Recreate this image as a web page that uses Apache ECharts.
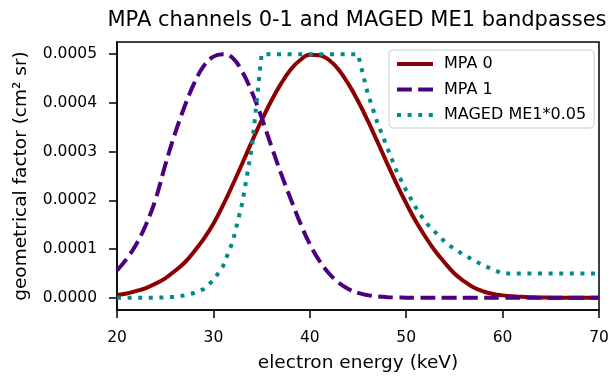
<!DOCTYPE html>
<html>
<head>
<meta charset="utf-8">
<script src="https://cdn.jsdelivr.net/npm/echarts@6/dist/echarts.min.js"></script>
<style>
  html, body {margin: 0; padding: 0; background: #fff;}
  #chart {width: 616px; height: 378px;}
</style>
</head>
<body>
<div id="chart"></div>
<script>
// values are in units of 1e-4 cm^2 sr at 1 keV steps
const energy = [20, 21, 22, 23, 24, 25, 26, 27, 28, 29, 30, 31, 32, 33, 34, 35, 36, 37, 38, 39,
    40, 41, 42, 43, 44, 45, 46, 47, 48, 49, 50, 51, 52, 53, 54, 55, 56, 57, 58, 59,
    60, 61, 62, 63, 64, 65, 66, 67, 68, 69, 70];
const mpa0 = [0.06, 0.09, 0.14, 0.20, 0.29, 0.40, 0.55, 0.72, 0.95, 1.21, 1.52, 1.90, 2.32, 2.76, 3.21, 3.64, 4.04, 4.39, 4.68, 4.88,
    4.99, 4.98, 4.88, 4.68, 4.39, 4.04, 3.64, 3.21, 2.77, 2.34, 1.94, 1.57, 1.25, 0.96, 0.72, 0.50, 0.34, 0.21, 0.13, 0.08,
    0.05, 0.03, 0.02, 0.01, 0.006, 0.003, 0.002, 0.001, 0, 0, 0];
const mpa1 = [0.56, 0.80, 1.10, 1.50, 2.02, 2.72, 3.36, 3.92, 4.40, 4.76, 4.95, 5.00, 4.92, 4.64, 4.22, 3.70, 3.12, 2.56, 2.04, 1.54,
    1.10, 0.76, 0.50, 0.31, 0.18, 0.10, 0.055, 0.028, 0.014, 0.007, 0.003, 0.001, 0, 0, 0, 0, 0, 0, 0, 0,
    0, 0, 0, 0, 0, 0, 0, 0, 0, 0, 0];
const maged = [0, 0, 0, 0, 0.005, 0.01, 0.02, 0.05, 0.10, 0.18, 0.36, 0.65, 1.15, 1.95, 3.10, 5.00, 5, 5, 5, 5,
    5, 5, 5, 5, 5, 5, 4.20, 3.60, 3.10, 2.60, 2.20, 1.85, 1.55, 1.35, 1.15, 1.00, 0.88, 0.77, 0.67, 0.58,
    0.50, 0.50, 0.50, 0.50, 0.50, 0.50, 0.50, 0.50, 0.50, 0.50, 0.50];
const yTicks = [0, 1, 2, 3, 4, 5];
const seriesNames = ['MPA 0', 'MPA 1', 'MAGED ME1*0.05'];

const font = 'DejaVu Sans';
const colors = ['#8b0000', '#4b0082', '#008b8b'];
const dashes = ['solid', [14.8, 6.4], [4, 6.6]];

const pairs = (vals) => energy.map((e, i) => [e, vals[i]]);
const lineSeries = (i, vals, smooth) => ({
    name: seriesNames[i],
    type: 'line',
    data: pairs(vals),
    symbol: 'none',
    showSymbol: false,
    smooth: smooth,
    lineStyle: {color: colors[i], width: 4, type: dashes[i], cap: 'butt'},
    itemStyle: {color: colors[i]},
    animation: false,
});

const chart = echarts.init(document.getElementById('chart'), null, {renderer: 'canvas'});
chart.setOption({
    animation: false,
    textStyle: {fontFamily: font, color: '#000'},
    title: {
        text: 'MPA channels 0-1 and MAGED ME1 bandpasses',
        left: 352,
        textAlign: 'center',
        top: 5,
        textStyle: {fontFamily: font, fontSize: 21, fontWeight: 'normal', color: '#000'}
    },
    legend: {
        orient: 'vertical',
        left: 389,
        top: 50,
        padding: [6, 8, 5, 6],
        itemWidth: 36,
        itemHeight: 14,
        itemGap: 9.5,
        borderColor: '#cccccc',
        borderWidth: 1,
        borderRadius: 4,
        backgroundColor: 'rgba(255,255,255,0.8)',
        itemStyle: {opacity: 0},
        textStyle: {fontFamily: font, fontSize: 16, color: '#000', padding: [0, 0, 0, 6]},
        data: seriesNames.map((n, i) => ({
            name: n,
            itemStyle: {opacity: 0},
            lineStyle: {color: colors[i], width: 4, type: dashes[i], cap: 'butt'}
        }))
    },
    grid: {
        left: 117, right: 17, top: 42, bottom: 66,
        show: true,
        borderColor: '#000',
        borderWidth: 1.5,
        backgroundColor: 'transparent'
    },
    xAxis: {
        type: 'value',
        min: 20, max: 70, interval: 10,
        name: 'electron energy (keV)',
        nameLocation: 'middle',
        nameGap: 44,
        nameTextStyle: {fontFamily: font, fontSize: 18.5, color: '#000'},
        axisLine: {show: true, onZero: false, lineStyle: {color: '#000', width: 1.5}},
        axisTick: {show: true, length: 8, lineStyle: {color: '#000', width: 1.5}},
        axisLabel: {margin: 20, fontFamily: font, fontSize: 15.5, color: '#000'},
        splitLine: {show: false}
    },
    yAxis: {
        type: 'value',
        min: -0.25, max: 5.25,
        name: 'geometrical factor (cm² sr)',
        nameLocation: 'middle',
        nameGap: 86,
        nameTextStyle: {fontFamily: font, fontSize: 18.5, color: '#000'},
        axisLine: {show: true, onZero: false, lineStyle: {color: '#000', width: 1.5}},
        axisTick: {show: true, length: 8, customValues: yTicks, lineStyle: {color: '#000', width: 1.5}},
        axisLabel: {
            margin: 20, fontFamily: font, fontSize: 15.5, color: '#000',
            customValues: yTicks,
            formatter: (v) => (v / 10000).toFixed(4)
        },
        splitLine: {show: false}
    },
    series: [
        lineSeries(0, mpa0, 0.4),
        lineSeries(1, mpa1, 0.4),
        lineSeries(2, maged, false)
    ]
});
</script>
</body>
</html>
